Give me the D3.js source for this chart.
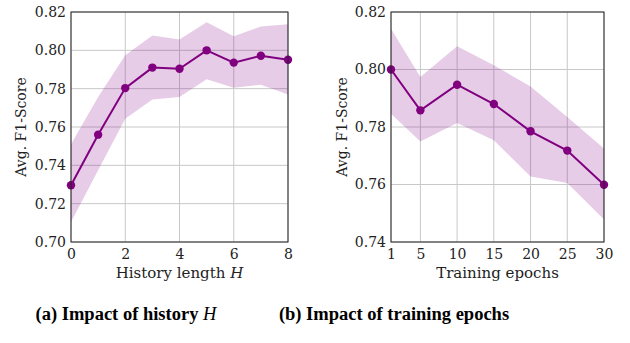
<!DOCTYPE html>
<html>
<head>
<meta charset="utf-8">
<script src="https://cdn.jsdelivr.net/npm/d3@7"></script>
<style>
  body { margin: 0; background: #fff; }
  svg { display: block; }
  .tick text { font-family: "DejaVu Serif", serif; }
</style>
</head>
<body>
<script>
// (a) history length H
var historyLen = [0, 1, 2, 3, 4, 5, 6, 7, 8];
var historyMean = [0.7296, 0.756, 0.7803, 0.791, 0.7904, 0.800, 0.7936, 0.7972, 0.7951];
var historyUpper = [0.751, 0.7757, 0.7974, 0.8078, 0.8056, 0.8146, 0.8073, 0.8125, 0.8136];
var historyLower = [0.7104, 0.7374, 0.7643, 0.7744, 0.7757, 0.7849, 0.7805, 0.7821, 0.7769];
var historyXTicks = [0, 2, 4, 6, 8];
var historyYTicks = [0.70, 0.72, 0.74, 0.76, 0.78, 0.80, 0.82];

// (b) training epochs
var epochs = [1, 5, 10, 15, 20, 25, 30];
var epochMean = [0.800, 0.7858, 0.7947, 0.788, 0.7785, 0.7718, 0.7599];
var epochUpper = [0.8142, 0.7974, 0.8081, 0.8015, 0.7941, 0.7835, 0.7725];
var epochLower = [0.7846, 0.775, 0.7814, 0.7754, 0.7628, 0.7605, 0.7478];
var epochXTicks = [1, 5, 10, 15, 20, 25, 30];
var epochYTicks = [0.74, 0.76, 0.78, 0.80, 0.82];

var svg = d3.select('body').append('svg')
    .attr('width', 630)
    .attr('height', 343);

function drawPanel(opt) {
    var x = d3.scaleLinear().domain(opt.xDomain).range([opt.left, opt.right]);
    var y = d3.scaleLinear().domain(opt.yDomain).range([opt.bottom, opt.top]);
    var g = svg.append('g');

    // grid
    g.selectAll('line.vg').data(opt.xTicks).enter().append('line')
        .attr('x1', function (d) { return x(d); })
        .attr('x2', function (d) { return x(d); })
        .attr('y1', opt.top).attr('y2', opt.bottom)
        .style('stroke', '#c8c8c8').style('stroke-width', 1);
    g.selectAll('line.hg').data(opt.yTicks).enter().append('line')
        .attr('y1', function (d) { return y(d); })
        .attr('y2', function (d) { return y(d); })
        .attr('x1', opt.left).attr('x2', opt.right)
        .style('stroke', '#c8c8c8').style('stroke-width', 1);

    var pts = opt.xs.map(function (d, i) {
        return { x: d, m: opt.mean[i], lo: opt.lower[i], hi: opt.upper[i] };
    });

    // band
    var area = d3.area()
        .x(function (d) { return x(d.x); })
        .y0(function (d) { return y(d.lo); })
        .y1(function (d) { return y(d.hi); });
    g.append('path').datum(pts).attr('d', area)
        .style('fill', '#800080').style('fill-opacity', 0.2);

    // line + markers
    var line = d3.line()
        .x(function (d) { return x(d.x); })
        .y(function (d) { return y(d.m); });
    g.append('path').datum(pts).attr('d', line)
        .style('fill', 'none').style('stroke', '#800080').style('stroke-width', 2);
    g.selectAll('circle').data(pts).enter().append('circle')
        .attr('cx', function (d) { return x(d.x); })
        .attr('cy', function (d) { return y(d.m); })
        .attr('r', 4.2)
        .style('fill', '#800080');

    // axes
    var xAxis = d3.axisBottom(x).tickValues(opt.xTicks).tickSize(0).tickPadding(7)
        .tickFormat(d3.format('d'));
    var yAxis = d3.axisLeft(y).tickValues(opt.yTicks).tickSize(0).tickPadding(5)
        .tickFormat(d3.format('.2f'));
    var gx = g.append('g').attr('transform', 'translate(0,' + opt.bottom + ')').call(xAxis);
    var gy = g.append('g').attr('transform', 'translate(' + opt.left + ',0)').call(yAxis);
    [gx, gy].forEach(function (a) {
        a.select('.domain').remove();
        a.selectAll('text').style('font-size', '14px').style('fill', '#222');
    });

    // frame
    g.append('rect')
        .attr('x', opt.left).attr('y', opt.top)
        .attr('width', opt.right - opt.left).attr('height', opt.bottom - opt.top)
        .style('fill', 'none').style('stroke', '#222').style('stroke-width', 1);

    // labels
    var xl = g.append('text')
        .attr('x', (opt.left + opt.right) / 2).attr('y', 278)
        .attr('text-anchor', 'middle')
        .style('font-family', '"DejaVu Serif", serif').style('font-size', '15px')
        .style('fill', '#222')
        .text(opt.xLabel);
    if (opt.xLabelItalic) {
        xl.append('tspan').style('font-style', 'italic').text(opt.xLabelItalic);
    }
    g.append('text')
        .attr('transform', 'translate(' + opt.yLabelX + ',' + ((opt.top + opt.bottom) / 2) + ') rotate(-90)')
        .attr('text-anchor', 'middle')
        .style('font-family', '"DejaVu Serif", serif').style('font-size', '14px')
        .style('fill', '#222')
        .text('Avg. F1-Score');

    var cap = svg.append('text')
        .attr('x', opt.capX).attr('y', 320)
        .attr('text-anchor', 'middle')
        .style('font-family', '"Liberation Serif", serif').style('font-size', '18.5px')
        .style('font-weight', 'bold')
        .text(opt.caption);
    if (opt.captionItalic) {
        cap.append('tspan').style('font-style', 'italic').style('font-weight', 'normal')
            .text(opt.captionItalic);
    }
}

drawPanel({
    xs: historyLen, mean: historyMean, upper: historyUpper, lower: historyLower,
    xDomain: [0, 8], yDomain: [0.70, 0.82],
    xTicks: historyXTicks, yTicks: historyYTicks,
    left: 71, right: 288, top: 12, bottom: 242,
    xLabel: 'History length ', xLabelItalic: 'H', yLabelX: 26,
    capX: 126, caption: '(a) Impact of history ', captionItalic: 'H'
});

drawPanel({
    xs: epochs, mean: epochMean, upper: epochUpper, lower: epochLower,
    xDomain: [1, 30], yDomain: [0.74, 0.82],
    xTicks: epochXTicks, yTicks: epochYTicks,
    left: 391, right: 604, top: 12, bottom: 242,
    xLabel: 'Training epochs', yLabelX: 347,
    capX: 394, caption: '(b) Impact of training epochs'
});
</script>
</body>
</html>
